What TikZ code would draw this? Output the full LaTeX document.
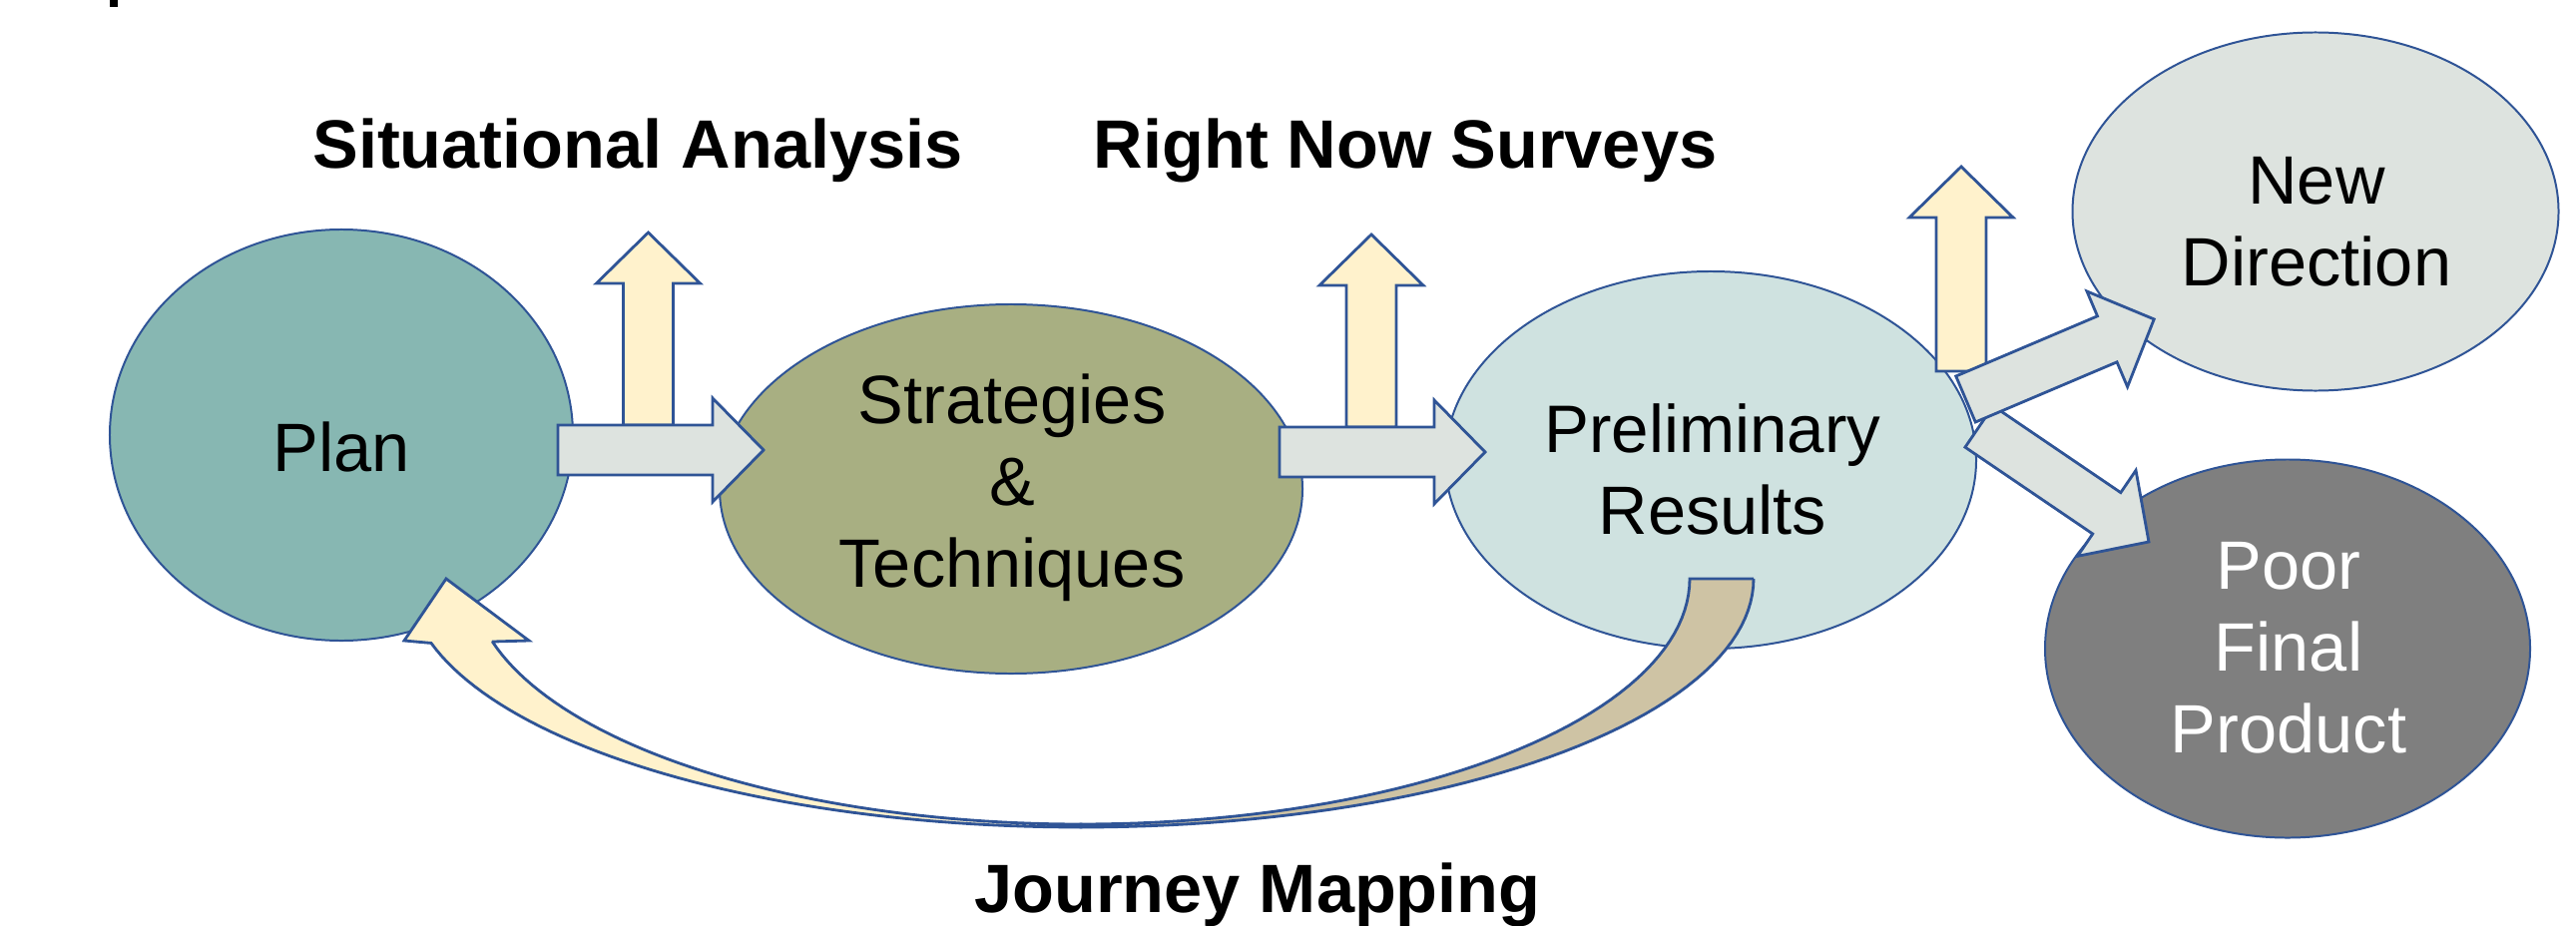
\documentclass[tikz,border=0pt]{standalone}
\usepackage{fontspec}
\setmainfont{Liberation Sans}
\usetikzlibrary{shapes.geometric}

\definecolor{edgeblue}{HTML}{2F5496}
\definecolor{plancol}{HTML}{87B7B2}
\definecolor{stratcol}{HTML}{A8AF82}
\definecolor{prelimcol}{HTML}{CFE2E0}
\definecolor{newcol}{HTML}{DDE3DF}
\definecolor{poorcol}{HTML}{7F7F7F}
\definecolor{cream}{HTML}{FFF2CC}
\definecolor{tancol}{HTML}{CEC3A4}
\definecolor{greyarrow}{HTML}{DDE3DF}

\newcommand{\bodysize}{\fontsize{58.5}{70}\selectfont}

% block arrow: tail midpoint, direction angle, total length, fill colour
\newcommand{\fatarrow}[4]{%
  \begin{scope}[shift={#1}, rotate=#2]
    \draw[arrowline, fill=#4] (0,-25) -- ({#3-51},-25) -- ({#3-51},-52) -- (#3,0)
      -- ({#3-51},52) -- ({#3-51},25) -- (0,25) -- cycle;
  \end{scope}}

\begin{document}
\begin{tikzpicture}[x=0.03cm, y=-0.03cm,
  oval/.style={ellipse, draw=edgeblue, line width=1.7pt, inner sep=0pt},
  arrowline/.style={draw=edgeblue, line width=2.4pt, line join=miter},
  bodytext/.style={font=\bodysize, align=center, inner sep=0pt},
  headtext/.style={font=\bodysize\bfseries, inner sep=0pt}]

\useasboundingbox (0,0) rectangle (2581,928);

% clipped descender of a heading above the frame
\fill (110,0) rectangle (118,7);

% stages
\node[oval, fill=plancol,   minimum width=13.92cm, minimum height=12.36cm] (plan)   at (342,436)  {};
\node[oval, fill=stratcol,  minimum width=17.52cm, minimum height=11.10cm] (strat)  at (1013,490) {};
\node[oval, fill=prelimcol, minimum width=15.96cm, minimum height=11.34cm] (prelim) at (1714,461) {};
\node[oval, fill=newcol,    minimum width=14.61cm, minimum height=10.77cm] (newdir) at (2320,212) {};
\node[oval, fill=poorcol,   minimum width=14.58cm, minimum height=11.37cm] (poor)   at (2292,650) {};

% upward arrows to the side activities
\fatarrow{(649.5,426)}{90}{193}{cream}
\fatarrow{(1374,428)}{90}{193}{cream}
\fatarrow{(1965,372)}{90}{205}{cream}

% forward arrows between stages
\fatarrow{(559,451)}{0}{206}{greyarrow}
\fatarrow{(1282,453)}{0}{206}{greyarrow}
\fatarrow{(1983,427.5)}{-34.2}{205.5}{greyarrow}
\fatarrow{(1969.5,400)}{23}{205}{greyarrow}

% feedback loop: back face of the ribbon
\draw[arrowline, fill=tancol] (1757,580) -- (1693,580)
  -- plot[domain=0:90, samples=50] ({1083+610*cos(\x)},{580+246*sin(\x)})
  -- plot[domain=90:0, samples=50] ({1083+674*cos(\x)},{580+249*sin(\x)})
  -- cycle;
% feedback loop: front face with head
\draw[arrowline, fill=cream] (405,642) -- (447,580) -- (530,642) -- (494,643)
  -- plot[domain=165:90, samples=50] ({1083+610*cos(\x)},{580+246*sin(\x)})
  -- plot[domain=90:165, samples=50] ({1083+674*cos(\x)},{580+249*sin(\x)})
  -- cycle;

% stage labels
\node[bodytext] (plan-t)   at (342,447.5) {Plan};
\node[bodytext] (strat-t)  at (1014,489)  {Strategies\\\&\\Techniques};
\node[bodytext] (prelim-t) at (1716,470)  {\fontsize{57.5}{70}\selectfont Preliminary\\Results};
\node[bodytext] (newdir-t) at (2321,222)  {New\\Direction};
\node[bodytext, text=white] (poor-t) at (2293,649.5) {Poor\\Final\\Product};

% activity headings
\node[headtext] (sit)  at (639,151)  {Situational Analysis};
\node[headtext] (rns)  at (1408,151) {Right Now Surveys};
\node[headtext] (jmap) at (1260,897) {Journey Mapping};
\end{tikzpicture}
\end{document}
